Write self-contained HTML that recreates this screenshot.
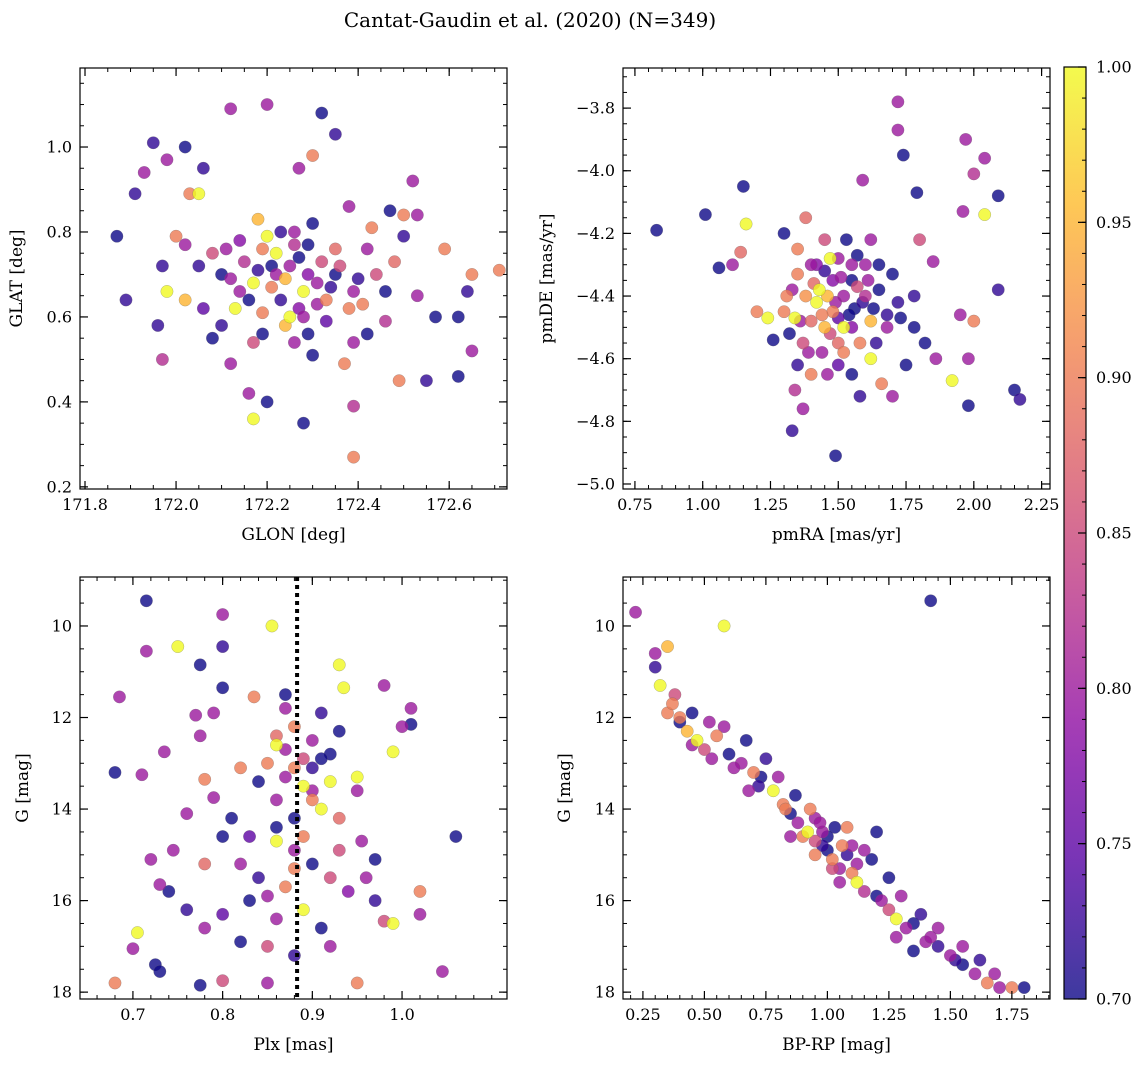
<!DOCTYPE html>
<html><head><meta charset="utf-8"><style>
body{margin:0;background:#fff;}
svg{display:block;font-family:"DejaVu Serif","Liberation Serif",serif;}
</style></head><body>
<svg id="fig" width="1148" height="1067" viewBox="0 0 1148 1067"></svg>
<script>
// ---- data ----
const p1Lon=[171.87,171.89,171.91,171.95,171.93,171.98,172.02,172.06,172.05,172.03,172.12,172.20,172.32,172.35,172.30,172.27,172.52,171.97,171.98,171.97,171.96,172.02,172.00,172.08,172.12,172.16,172.20,172.17,172.28,172.39,172.39,172.49,172.55,172.62,172.62,172.65,172.64,172.65,172.71,172.59,172.53,172.50,172.47,172.43,172.14,172.19,172.22,172.25,172.29,172.32,172.35,172.39,172.28,172.23,172.19,172.14,172.10,172.08,172.17,172.33,172.38,172.42,172.46,172.48,172.26,172.30,172.37,172.39,172.13,172.20,172.26,172.30,172.38,172.18,172.29,172.42,172.46,172.06,172.05,172.02,172.50,172.53,172.57,172.17,172.24,172.31,172.21,172.35,172.27,172.10,172.44,172.15,
172.22,172.27,172.33,172.25,172.18,172.12,172.36,172.40,172.29,172.21,172.31,172.16,172.24,172.34,172.26,172.19,172.11,172.41,172.28,172.23];
const p1Lat=[.79,.64,.89,1.01,.94,.97,1.00,.95,.89,.89,1.09,1.10,1.08,1.03,.98,.95,.92,.72,.66,.50,.58,.64,.79,.55,.49,.42,.40,.36,.35,.27,.39,.45,.45,.46,.60,.52,.66,.70,.71,.76,.84,.84,.85,.81,.78,.76,.75,.72,.77,.73,.70,.66,.66,.64,.61,.66,.70,.75,.68,.59,.62,.76,.66,.73,.54,.51,.49,.54,.62,.79,.80,.82,.86,.83,.56,.56,.59,.62,.72,.77,.79,.65,.60,.54,.69,.68,.72,.76,.62,.58,.70,.73,
.70,.74,.64,.60,.71,.69,.72,.69,.70,.67,.63,.64,.58,.67,.77,.56,.76,.63,.60,.80];
const p1Prob=[.70,.72,.72,.72,.80,.80,.70,.72,1.0,.90,.80,.80,.70,.72,.90,.80,.80,.72,1.0,.82,.72,.95,.90,.70,.80,.80,.70,1.0,.70,.90,.82,.90,.72,.70,.70,.80,.72,.90,.90,.90,.80,.90,.70,.90,.78,.90,1.0,.80,.70,.85,.70,.80,1.0,.72,.90,.80,.70,.85,1.0,.75,.90,.80,.70,.88,.80,.70,.90,.80,1.0,1.0,.80,.70,.80,.95,.70,.70,.82,.75,.72,.80,.72,.80,.70,.85,.95,.80,.70,.88,.78,.72,.85,.82,
.80,.70,.90,1.0,.72,.80,.85,.72,.78,.90,.80,.70,.95,.72,.82,.70,.80,.90,.80,.72];

const p2Ra=[0.83,1.01,1.06,1.11,1.14,1.16,1.15,1.72,1.72,1.74,1.97,2.00,2.04,2.09,1.79,1.96,2.04,1.59,2.09,1.95,2.00,1.98,1.92,1.98,2.15,2.17,1.49,1.33,1.37,1.34,1.26,1.20,1.24,1.80,1.85,1.78,1.82,1.86,1.35,1.40,1.45,1.50,1.55,1.60,1.65,1.70,1.72,1.68,1.62,1.58,1.52,1.48,1.42,1.38,1.33,1.30,1.32,1.37,1.44,1.50,1.55,1.62,1.66,1.70,1.58,1.46,1.40,1.35,1.52,1.56,1.45,1.40,1.48,1.53,1.62,1.45,1.38,1.30,1.75,1.78,1.65,1.60,1.35,1.50,1.43,1.55,1.47,1.64,1.34,1.57,
1.49,1.54,1.44,1.51,1.59,1.41,1.36,1.63,1.47,1.55,1.68,1.52,1.42,1.39,1.57,1.61,1.46,1.50,1.73,1.31];
const p2De=[-4.19,-4.14,-4.31,-4.30,-4.26,-4.17,-4.05,-3.78,-3.87,-3.95,-3.90,-4.01,-3.96,-4.08,-4.07,-4.13,-4.14,-4.03,-4.38,-4.46,-4.48,-4.60,-4.67,-4.75,-4.70,-4.73,-4.91,-4.83,-4.76,-4.70,-4.54,-4.45,-4.47,-4.22,-4.29,-4.50,-4.55,-4.60,-4.25,-4.30,-4.32,-4.28,-4.35,-4.30,-4.38,-4.33,-4.42,-4.50,-4.48,-4.55,-4.50,-4.45,-4.42,-4.40,-4.38,-4.45,-4.52,-4.55,-4.58,-4.62,-4.65,-4.60,-4.68,-4.72,-4.72,-4.65,-4.65,-4.62,-4.40,-4.44,-4.50,-4.48,-4.35,-4.22,-4.22,-4.22,-4.15,-4.20,-4.62,-4.40,-4.30,-4.40,-4.33,-4.55,-4.38,-4.50,-4.28,-4.55,-4.47,-4.37,
-4.42,-4.46,-4.46,-4.34,-4.42,-4.36,-4.48,-4.44,-4.52,-4.30,-4.46,-4.58,-4.30,-4.58,-4.27,-4.35,-4.40,-4.47,-4.47,-4.40];
const p2Prob=[.70,.70,.70,.80,.88,1.0,.70,.80,.80,.70,.80,.82,.80,.70,.70,.80,1.0,.80,.72,.80,.90,.80,1.0,.70,.70,.72,.70,.72,.80,.82,.70,.90,1.0,.85,.80,.70,.70,.80,.90,.80,.72,.80,.70,.80,.70,.70,.72,.80,.95,.90,1.0,.90,1.0,.92,.80,.90,.70,.85,.80,.75,.70,1.0,.90,.80,.72,.80,.90,.72,.80,.70,.95,.88,.78,.70,.80,.85,.88,.70,.70,.72,.70,.82,.90,.88,1.0,.78,1.0,.72,1.0,.85,
.80,.70,.90,.80,.72,.88,.80,.70,.85,.80,.72,.90,.78,.80,.70,.80,.95,.75,.70,.90];

const p3Plx=[0.715,0.80,0.855,0.75,0.715,0.775,0.80,0.93,0.685,0.80,0.935,0.98,0.77,0.79,0.835,0.87,1.01,0.735,0.71,0.68,0.775,0.86,0.99,1.0,1.01,0.78,0.76,0.79,0.80,0.81,0.745,0.72,0.82,1.06,0.95,0.74,0.73,0.705,0.70,0.725,0.73,0.68,0.775,0.80,0.85,0.95,1.045,1.02,1.02,0.98,0.99,0.97,0.955,0.96,0.97,0.85,0.87,0.89,0.90,0.91,0.88,0.86,0.92,0.90,0.88,0.93,0.86,0.88,0.90,0.92,0.87,0.84,0.83,0.86,0.89,0.91,0.85,0.88,0.92,0.82,0.80,0.78,0.93,0.95,0.84,0.82,0.89,0.87,0.91,0.94,0.83,0.78,0.76,
0.88,0.90,0.86,0.92,0.89,0.87,0.91,0.93,0.85,0.88,0.90,0.86];
const p3G=[9.45,9.75,10.0,10.45,10.55,10.85,10.45,10.85,11.55,11.35,11.35,11.3,11.95,11.9,11.55,11.5,11.8,12.75,13.25,13.2,12.4,12.6,12.75,12.2,12.15,13.35,14.1,13.75,14.6,14.2,14.9,15.1,15.2,14.6,13.3,15.8,15.65,16.7,17.05,17.4,17.55,17.8,17.85,17.75,17.8,17.8,17.55,16.3,15.8,16.45,16.5,15.1,14.7,15.5,16.0,13.0,13.3,13.5,13.8,14.0,14.2,13.8,12.8,12.5,12.2,12.3,14.7,14.9,15.2,15.5,15.7,15.5,16.0,16.4,16.2,16.6,17.0,17.2,17.0,16.9,16.3,16.6,14.2,13.6,13.4,13.1,12.9,11.8,11.9,15.8,14.6,15.2,16.2,
13.1,13.6,14.4,13.4,14.6,12.7,12.9,14.9,15.9,15.3,13.1,12.4];
const p3Prob=[.70,.80,1.0,1.0,.80,.70,.72,1.0,.80,.70,1.0,.80,.80,.80,.90,.70,.80,.80,.80,.70,.80,1.0,1.0,.80,.70,.90,.80,.80,.70,.70,.80,.80,.80,.70,1.0,.70,.80,1.0,.80,.70,.70,.90,.70,.85,.80,.90,.80,.80,.90,.85,1.0,.70,.80,.80,.72,.90,.80,1.0,.90,1.0,.70,.80,.70,.80,.90,.70,1.0,.80,.70,.85,.90,.72,.70,.80,1.0,.70,.85,.72,.80,.70,.75,.80,.88,.80,.70,.90,.85,.80,.72,.78,.75,.88,.72,
.90,.80,.70,1.0,.90,.80,.70,.85,.80,.90,.72,.88];

const p4Col=[0.22,0.58,1.42,0.30,0.35,0.30,0.32,0.38,0.35,0.40,0.43,0.47,0.50,0.55,0.60,0.65,0.70,0.72,0.78,0.82,0.85,0.88,0.92,0.95,0.98,1.00,1.02,1.05,1.08,1.12,1.15,1.20,1.25,1.28,1.32,1.35,1.40,1.45,1.50,1.55,1.60,1.65,1.70,1.75,1.80,0.45,0.58,0.67,0.75,0.80,0.87,0.93,1.03,1.10,1.18,1.25,1.30,1.38,1.45,1.55,1.62,1.68,0.95,1.08,1.15,1.20,1.05,0.95,0.85,0.68,0.53,0.45,0.40,1.35,1.28,
0.90,0.97,1.00,1.06,1.12,1.02,0.98,1.10,0.62,0.73,0.83,1.22,1.42,1.52,0.37,0.52];
const p4G=[9.7,10.0,9.45,10.6,10.45,10.9,11.3,11.5,11.9,12.1,12.3,12.5,12.7,12.4,12.8,13.0,13.2,13.5,13.6,13.9,14.1,14.3,14.5,14.7,14.5,14.9,15.1,15.3,15.0,15.6,15.8,15.9,16.2,16.4,16.6,16.5,16.9,17.0,17.2,17.4,17.6,17.8,17.9,17.9,17.9,11.9,12.2,12.5,12.9,13.3,13.7,14.0,14.4,14.8,15.1,15.5,15.9,16.3,16.6,17.0,17.3,17.6,14.2,14.4,14.9,14.5,15.6,15.0,14.6,13.6,12.9,12.6,12.0,17.1,16.8,
14.6,14.3,14.6,14.8,15.2,15.3,14.8,15.4,13.1,13.3,14.0,16.0,16.8,17.3,11.7,12.1];
const p4Prob=[.80,1.0,.70,.80,.95,.72,1.0,.85,.90,.70,.95,1.0,.85,.90,.70,.80,.90,.72,1.0,.90,.70,.80,1.0,.85,.80,.70,.90,.80,.72,1.0,.82,.70,.85,1.0,.80,.70,.80,.72,.80,.70,.80,.90,.80,.90,.70,.70,.80,.70,.72,.80,.70,.90,.70,.80,.70,.70,.80,.72,.80,.80,.72,.80,.80,.90,.80,.70,.80,.90,.80,.80,.80,.80,.90,.70,.80,
.90,.80,.70,.90,.80,.85,.72,.90,.80,.70,.90,.80,.80,.72,.90,.80];

const cbTicks=[0.70,0.75,0.80,0.85,0.90,0.95,1.00];
const plasmaStops=[[13,8,135],[84,2,163],[139,10,165],[185,50,137],[219,92,104],[244,136,73],[254,188,43],[240,249,33]];

const NS="http://www.w3.org/2000/svg";
const svg=document.getElementById('fig');
function mk(tag,attrs,parent){const e=document.createElementNS(NS,tag);for(const k in attrs)e.setAttribute(k,attrs[k]);(parent||svg).appendChild(e);return e;}
function plasma(t){t=Math.max(0,Math.min(1,t));const n=plasmaStops.length-1;const f=t*n;const i=Math.min(n-1,Math.floor(f));const u=f-i;const a=plasmaStops[i],b=plasmaStops[i+1];return `rgb(${Math.round(a[0]+(b[0]-a[0])*u)},${Math.round(a[1]+(b[1]-a[1])*u)},${Math.round(a[2]+(b[2]-a[2])*u)})`;}
function norm(p){return (p-0.70)/0.30;}

function panel(o){
  const g=mk('g',{});
  
  
  const sx=v=>o.x0+(v-o.xmin)/(o.xmax-o.xmin)*(o.x1-o.x0);
  const sy=o.yinv? v=>o.y0+(v-o.ymin)/(o.ymax-o.ymin)*(o.y1-o.y0) : v=>o.y1-(v-o.ymin)/(o.ymax-o.ymin)*(o.y1-o.y0);
  const clipId='c'+o.name;
  const cp=mk('clipPath',{id:clipId},g);mk('rect',{x:o.x0,y:o.y0,width:o.x1-o.x0,height:o.y1-o.y0},cp);
  const pts=mk('g',{'clip-path':`url(#${clipId})`},g);
  const order=o.xs.map((_,i)=>i).sort((a,b)=>o.p[a]-o.p[b]);
  order.forEach(i=>{
    const c=mk('circle',{cx:sx(o.xs[i]),cy:sy(o.ys[i]),r:6.2,fill:plasma(norm(o.p[i])),'fill-opacity':0.8,stroke:'#666','stroke-width':0.4,'stroke-opacity':0.6},pts);
    
    
  });
  if(o.vline!==undefined){
    const l=mk('line',{x1:sx(o.vline),x2:sx(o.vline),y1:o.y0,y2:o.y1,stroke:'#000','stroke-width':4,'stroke-dasharray':'4,4'},g);
    
    
  }
  const fr=mk('rect',{x:o.x0,y:o.y0,width:o.x1-o.x0,height:o.y1-o.y0,fill:'none',stroke:'#000','stroke-width':1.2},g);
  
  
  const eps=1e-9;
  for(let v=Math.ceil(o.xmin/o.xminor-eps)*o.xminor;v<=o.xmax+eps;v+=o.xminor){const X=sx(v);
    mk('line',{x1:X,x2:X,y1:o.y1,y2:o.y1-4,stroke:'#000','stroke-width':1},g);mk('line',{x1:X,x2:X,y1:o.y0,y2:o.y0+4,stroke:'#000','stroke-width':1},g);}
  for(let v=Math.ceil(o.ymin/o.yminor-eps)*o.yminor;v<=o.ymax+eps;v+=o.yminor){const Y=sy(v);
    mk('line',{x1:o.x0,x2:o.x0+4,y1:Y,y2:Y,stroke:'#000','stroke-width':1},g);mk('line',{x1:o.x1,x2:o.x1-4,y1:Y,y2:Y,stroke:'#000','stroke-width':1},g);}
  o.xticks.forEach(v=>{const X=sx(v);
    mk('line',{x1:X,x2:X,y1:o.y1,y2:o.y1-8,stroke:'#000','stroke-width':1.2},g);mk('line',{x1:X,x2:X,y1:o.y0,y2:o.y0+8,stroke:'#000','stroke-width':1.2},g);
    const t=mk('text',{x:X,y:o.y1+21,'text-anchor':'middle','font-size':16},g);t.textContent=v.toFixed(o.xdec);
    });
  o.yticks.forEach(v=>{const Y=sy(v);
    mk('line',{x1:o.x0,x2:o.x0+8,y1:Y,y2:Y,stroke:'#000','stroke-width':1.2},g);mk('line',{x1:o.x1,x2:o.x1-8,y1:Y,y2:Y,stroke:'#000','stroke-width':1.2},g);
    const t=mk('text',{x:o.x0-8,y:Y+5.5,'text-anchor':'end','font-size':16},g);t.textContent=(v<0?'\u2212':'')+Math.abs(v).toFixed(o.ydec);
    });
  const xl=mk('text',{x:(o.x0+o.x1)/2,y:o.y1+51,'text-anchor':'middle','font-size':17},g);xl.textContent=o.xlabel;
  
  const yl=mk('text',{x:0,y:0,'text-anchor':'middle','font-size':17,transform:`translate(${o.ylx},${(o.y0+o.y1)/2}) rotate(-90)`},g);yl.textContent=o.ylabel;
  
}
function rng(a,b,s){const r=[];for(let v=a;v<=b+1e-9;v+=s)r.push(Math.round(v*1000)/1000);return r;}

panel({name:'glon-glat-panel',x0:80,x1:507,y0:68,y1:489,xmin:171.789,xmax:172.727,ymin:0.195,ymax:1.186,xs:p1Lon,ys:p1Lat,p:p1Prob,
  xticks:rng(171.8,172.6,0.2),xminor:0.05,xdec:1,yticks:rng(0.2,1.0,0.2),yminor:0.05,ydec:1,xlabel:'GLON [deg]',ylabel:'GLAT [deg]',ylx:22});
panel({name:'proper-motion-panel',x0:623,x1:1050,y0:68,y1:489,xmin:0.706,xmax:2.281,ymin:-5.016,ymax:-3.672,xs:p2Ra,ys:p2De,p:p2Prob,
  xticks:rng(0.75,2.25,0.25),xminor:0.05,xdec:2,yticks:rng(-5.0,-3.8,0.2),yminor:0.05,ydec:1,xlabel:'pmRA [mas/yr]',ylabel:'pmDE [mas/yr]',ylx:552});
panel({name:'parallax-mag-panel',x0:80,x1:507,y0:577,y1:999,xmin:0.641,xmax:1.117,ymin:8.93,ymax:18.15,yinv:true,xs:p3Plx,ys:p3G,p:p3Prob,vline:0.883,
  xticks:rng(0.7,1.0,0.1),xminor:0.02,xdec:1,yticks:rng(10,18,2),yminor:0.5,ydec:0,xlabel:'Plx [mas]',ylabel:'G [mag]',ylx:28});
panel({name:'cmd-panel',x0:623,x1:1050,y0:577,y1:999,xmin:0.169,xmax:1.905,ymin:8.93,ymax:18.15,yinv:true,xs:p4Col,ys:p4G,p:p4Prob,
  xticks:rng(0.25,1.75,0.25),xminor:0.05,xdec:2,yticks:rng(10,18,2),yminor:0.5,ydec:0,xlabel:'BP-RP [mag]',ylabel:'G [mag]',ylx:570});

const tt=mk('text',{x:530,y:27,'text-anchor':'middle','font-size':20});tt.textContent='Cantat-Gaudin et al. (2020) (N=349)';


const cb=mk('g',{});
const gr=mk('linearGradient',{id:'cbg',x1:0,y1:1,x2:0,y2:0},cb);
for(let i=0;i<=20;i++){mk('stop',{offset:i/20,'stop-color':plasma(i/20),'stop-opacity':0.8},gr);}
const cbx0=1064,cbx1=1086,cby0=67,cby1=999;
mk('rect',{x:cbx0,y:cby0,width:cbx1-cbx0,height:cby1-cby0,fill:'url(#cbg)',stroke:'#000','stroke-width':1.2},cb);
const cy=v=>cby1-(v-0.70)/0.30*(cby1-cby0);
for(let v=0.70;v<=1.0001;v+=0.01){const Y=cy(v);mk('line',{x1:cbx1,x2:cbx1-4,y1:Y,y2:Y,stroke:'#000','stroke-width':1},cb);}
cbTicks.forEach(v=>{const Y=cy(v);mk('line',{x1:cbx1,x2:cbx1-8,y1:Y,y2:Y,stroke:'#000','stroke-width':1.2},cb);
  const t=mk('text',{x:cbx1+10,y:Y+5.5,'font-size':16},cb);t.textContent=v.toFixed(2);
  });
</script>
</body></html>
